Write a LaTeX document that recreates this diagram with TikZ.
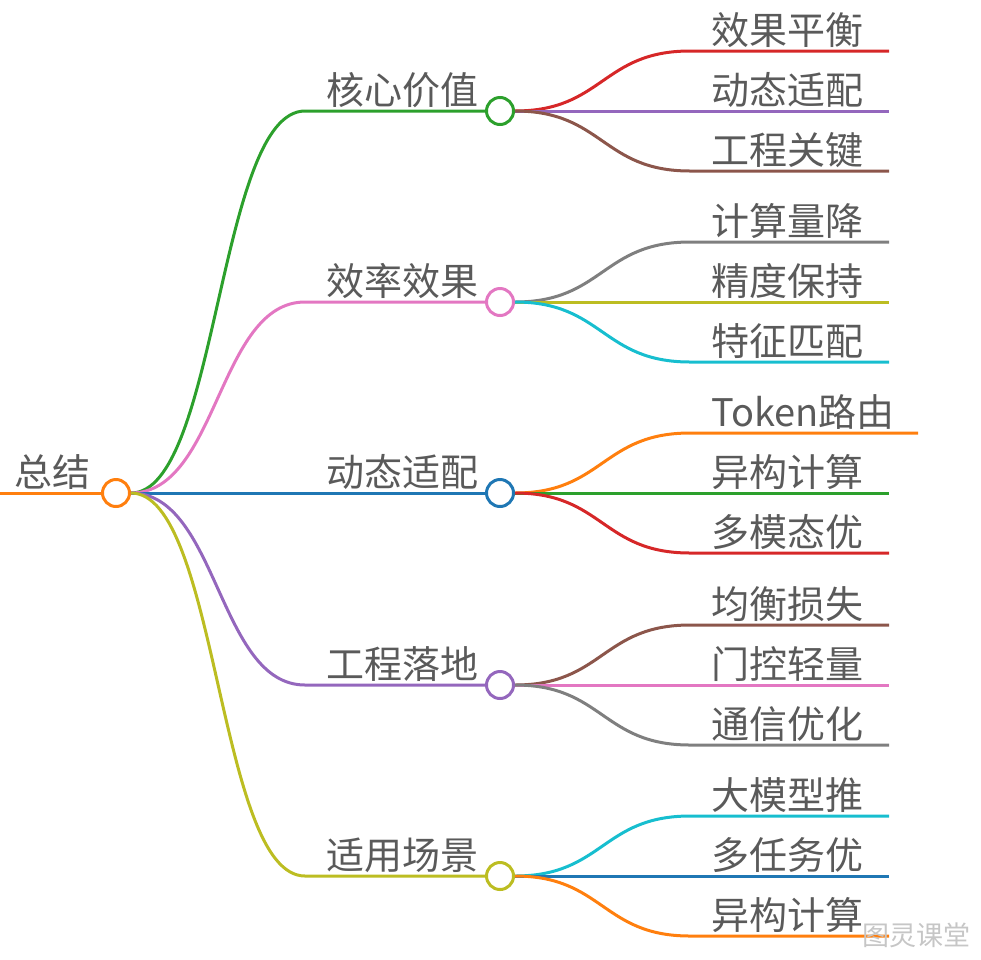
\documentclass[tikz,border=0pt]{standalone}
\usepackage{fontspec}
\setmainfont{Noto Sans CJK SC}
\usepackage{tikz}

\definecolor{cgreen}{HTML}{2CA02C}
\definecolor{cpink}{HTML}{E377C2}
\definecolor{cblue}{HTML}{1F77B4}
\definecolor{cpurple}{HTML}{9467BD}
\definecolor{colive}{HTML}{BCBD22}
\definecolor{corange}{HTML}{FF7F0E}
\definecolor{cred}{HTML}{D62728}
\definecolor{cbrown}{HTML}{8C564B}
\definecolor{cgray}{HTML}{7F7F7F}
\definecolor{ccyan}{HTML}{17BECF}
\definecolor{txtgray}{HTML}{5A5A5A}

\tikzset{
  ast/.style={draw=#1, line width=3pt},
  dot/.style={circle, draw=#1, fill=white, line width=3pt, minimum size=27pt, inner sep=0pt},
  txt/.style={text=txtgray, font=\fontsize{38}{40}\selectfont, inner sep=0pt},
  wmark/.style={text=gray!45, font=\fontsize{27}{30}\selectfont, inner sep=0pt}
}

\begin{document}
\begin{tikzpicture}[x=1pt,y=-1pt]
\useasboundingbox (0,0) rectangle (981,959);

\coordinate (in) at (0,493);
\node[dot=corange] (root) at (116,493) {};
\draw[ast=corange] (in) -- (root);
\node[txt, anchor=base east] (tRoot) at (91,486) {总结};

\coordinate (aS) at (305,111);
\node[dot=cgreen] (a) at (500,111) {};
\draw[ast=cgreen] (root.east) .. controls +(87,0) and +(-87,0) .. (aS) -- (a);
\node[txt, anchor=base east] (tA) at (479,104) {核心价值};

\coordinate (bS) at (305,302);
\node[dot=cpink] (b) at (500,302) {};
\draw[ast=cpink] (root.east) .. controls +(87,0) and +(-87,0) .. (bS) -- (b);
\node[txt, anchor=base east] (tB) at (479,295) {效率效果};

\coordinate (cS) at (305,493);
\node[dot=cblue] (c) at (500,493) {};
\draw[ast=cblue] (root.east) -- (cS) -- (c);
\node[txt, anchor=base east] (tC) at (479,486) {动态适配};

\coordinate (dS) at (305,685);
\node[dot=cpurple] (d) at (500,685) {};
\draw[ast=cpurple] (root.east) .. controls +(87,0) and +(-87,0) .. (dS) -- (d);
\node[txt, anchor=base east] (tD) at (479,678) {工程落地};

\coordinate (eS) at (305,876);
\node[dot=colive] (e) at (500,876) {};
\draw[ast=colive] (root.east) .. controls +(87,0) and +(-87,0) .. (eS) -- (e);
\node[txt, anchor=base east] (tE) at (479,869) {适用场景};

\coordinate (a1S) at (690,51); \coordinate (a1E) at (889,51);
\draw[ast=cred] (a.east) .. controls +(88,0) and +(-88,0) .. (a1S) -- (a1E);
\node[txt, anchor=base west] (tA1) at (711,44) {效果平衡};
\coordinate (a2S) at (690,111); \coordinate (a2E) at (889,111);
\draw[ast=cpurple] (a.east) -- (a2S) -- (a2E);
\node[txt, anchor=base west] (tA2) at (711,104) {动态适配};
\coordinate (a3S) at (690,171); \coordinate (a3E) at (889,171);
\draw[ast=cbrown] (a.east) .. controls +(88,0) and +(-88,0) .. (a3S) -- (a3E);
\node[txt, anchor=base west] (tA3) at (711,164) {工程关键};

\coordinate (b1S) at (690,242); \coordinate (b1E) at (889,242);
\draw[ast=cgray] (b.east) .. controls +(88,0) and +(-88,0) .. (b1S) -- (b1E);
\node[txt, anchor=base west] (tB1) at (711,235) {计算量降};
\coordinate (b2S) at (690,302); \coordinate (b2E) at (889,302);
\draw[ast=colive] (b.east) -- (b2S) -- (b2E);
\node[txt, anchor=base west] (tB2) at (711,295) {精度保持};
\coordinate (b3S) at (690,362); \coordinate (b3E) at (889,362);
\draw[ast=ccyan] (b.east) .. controls +(88,0) and +(-88,0) .. (b3S) -- (b3E);
\node[txt, anchor=base west] (tB3) at (711,355) {特征匹配};

\coordinate (c1S) at (690,433); \coordinate (c1E) at (918,433);
\draw[ast=corange] (c.east) .. controls +(88,0) and +(-88,0) .. (c1S) -- (c1E);
\node[txt, anchor=base west] (tC1) at (711,426) {Token路由};
\coordinate (c2S) at (690,493); \coordinate (c2E) at (889,493);
\draw[ast=cgreen] (c.east) -- (c2S) -- (c2E);
\node[txt, anchor=base west] (tC2) at (711,486) {异构计算};
\coordinate (c3S) at (690,553); \coordinate (c3E) at (889,553);
\draw[ast=cred] (c.east) .. controls +(88,0) and +(-88,0) .. (c3S) -- (c3E);
\node[txt, anchor=base west] (tC3) at (711,546) {多模态优};

\coordinate (d1S) at (690,625); \coordinate (d1E) at (889,625);
\draw[ast=cbrown] (d.east) .. controls +(88,0) and +(-88,0) .. (d1S) -- (d1E);
\node[txt, anchor=base west] (tD1) at (711,618) {均衡损失};
\coordinate (d2S) at (690,685); \coordinate (d2E) at (889,685);
\draw[ast=cpink] (d.east) -- (d2S) -- (d2E);
\node[txt, anchor=base west] (tD2) at (711,678) {门控轻量};
\coordinate (d3S) at (690,745); \coordinate (d3E) at (889,745);
\draw[ast=cgray] (d.east) .. controls +(88,0) and +(-88,0) .. (d3S) -- (d3E);
\node[txt, anchor=base west] (tD3) at (711,738) {通信优化};

\coordinate (e1S) at (690,816); \coordinate (e1E) at (889,816);
\draw[ast=ccyan] (e.east) .. controls +(88,0) and +(-88,0) .. (e1S) -- (e1E);
\node[txt, anchor=base west] (tE1) at (711,809) {大模型推};
\coordinate (e2S) at (690,876); \coordinate (e2E) at (889,876);
\draw[ast=cblue] (e.east) -- (e2S) -- (e2E);
\node[txt, anchor=base west] (tE2) at (711,869) {多任务优};
\coordinate (e3S) at (690,936); \coordinate (e3E) at (889,936);
\draw[ast=corange] (e.east) .. controls +(88,0) and +(-88,0) .. (e3S) -- (e3E);
\node[txt, anchor=base west] (tE3) at (711,929) {异构计算};

\node[wmark, anchor=base west] (wm) at (862,945) {图灵课堂};
\end{tikzpicture}
\end{document}
